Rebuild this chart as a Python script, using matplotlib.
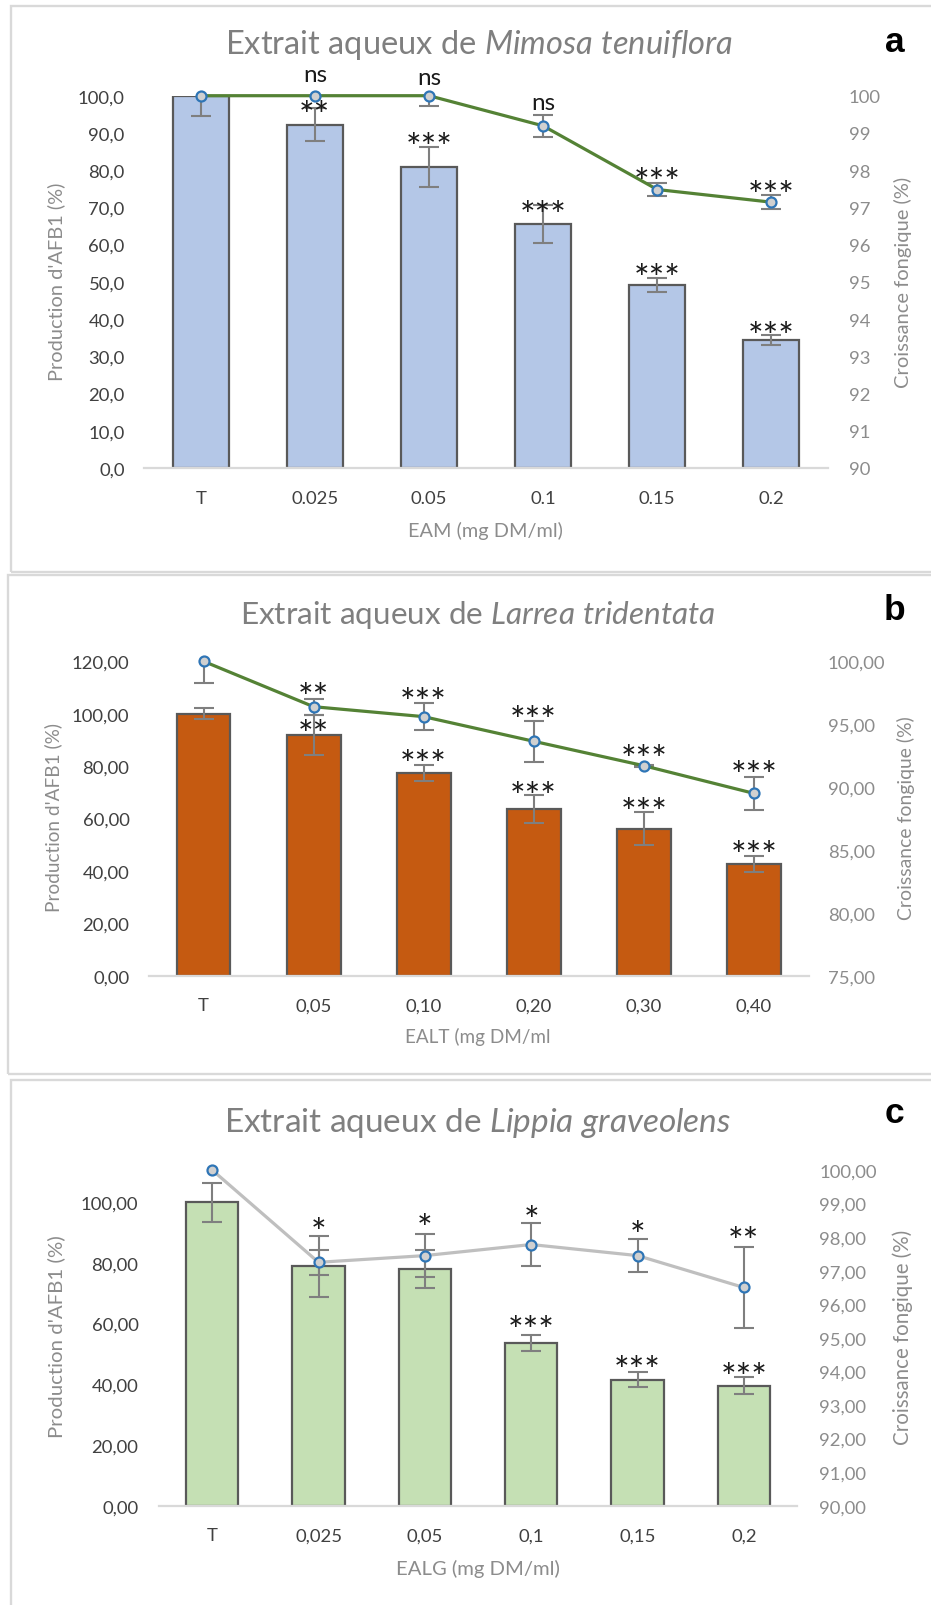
import numpy as np
import matplotlib
matplotlib.use('Agg')
import matplotlib.pyplot as plt
from matplotlib.patches import Rectangle
from matplotlib.ticker import FuncFormatter

plt.rcParams['font.family'] = ['Lato', 'DejaVu Sans']
plt.rcParams['mathtext.fontset'] = 'custom'
plt.rcParams['mathtext.rm'] = 'Lato'
plt.rcParams['mathtext.it'] = 'Lato:italic'

# ---------------- data ----------------
# Panel a : Mimosa tenuiflora
cats_a = ['T', '0.025', '0.05', '0.1', '0.15', '0.2']
afb1_a = [100.0, 92.2, 80.8, 65.5, 49.2, 34.4]
afb1_err_a = [5.5, 4.4, 5.3, 5.1, 1.8, 1.3]
growth_a = [100.0, 100.0, 100.0, 99.19, 97.48, 97.14]
growth_err_a = [0.0, 0.0, 0.27, 0.30, 0.18, 0.18]
sig_bar_a = ['', '**', '***', '***', '***', '***']
sig_line_a = ['', 'ns', 'ns', 'ns', '***', '***']

# Panel b : Larrea tridentata
cats_b = ['T', '0,05', '0,10', '0,20', '0,30', '0,40']
afb1_b = [100.0, 91.9, 77.4, 63.6, 56.1, 42.6]
afb1_err_b = [2.0, 7.5, 3.0, 5.5, 6.2, 3.0]
growth_b = [100.0, 96.39, 95.6, 93.64, 91.7, 89.5]
growth_err_b = [1.7, 0.65, 1.07, 1.65, 0.08, 1.3]
sig_bar_b = ['', '**', '***', '***', '***', '***']
sig_line_b = ['', '**', '***', '***', '***', '***']

# Panel c : Lippia graveolens
cats_c = ['T', '0,025', '0,05', '0,1', '0,15', '0,2']
afb1_c = [100.0, 78.9, 77.9, 53.6, 41.5, 39.6]
afb1_err_c = [6.4, 10.1, 6.3, 2.7, 2.4, 2.7]
growth_c = [100.0, 97.25, 97.45, 97.78, 97.45, 96.5]
growth_err_c = [0.0, 0.38, 0.64, 0.65, 0.5, 1.2]
sig_bar_c = ['', '', '', '***', '***', '***']
sig_line_c = ['', '*', '*', '*', '*', '**']

# ---------------- layout (annotation placement, left-axis units) ----------------
sig_bar_pos_a = [0, 97.2, 88.6, 70.4, 53.3, 37.8]
sig_line_pos_a = [0, 105.6, 104.9, 98.0, 79.2, 75.8]
sig_bar_pos_b = [0, 95.4, 84.0, 71.9, 65.9, 49.4]
sig_line_pos_b = [0, 109.8, 107.9, 101.1, 85.9, 79.9]
sig_bar_pos_c = [0, 0, 0, 60.8, 47.5, 45.3]
sig_line_pos_c = [0, 93.2, 94.3, 96.9, 92.0, 90.1]

W, H, DPI = 931, 1606, 100
fig = plt.figure(figsize=(W / DPI, H / DPI), dpi=DPI)
fig.patch.set_facecolor('white')


def fx(x):
    return x / W


def fy(y):
    return 1 - y / H


FRAME = '#d9d9d9'
ERR = '#7f7f7f'
TXT_DARK = '#404040'
TXT_GREY = '#8c8c8c'
TITLE = '#7f7f7f'


def frame(x0, y0, x1, y1):
    fig.add_artist(Rectangle((fx(x0), fy(y1)), fx(x1) - fx(x0), fy(y0) - fy(y1),
                             transform=fig.transFigure, fill=False,
                             edgecolor=FRAME, lw=1.7, clip_on=False))


frame(10.7, 6.7, 945, 572.7)
frame(8.3, 575.8, 945, 1075)
frame(10.7, 1080.5, 945, 1625)

fit_list = []
renderer = fig.canvas.get_renderer()


def calib(s, target):
    t = fig.text(0, 0, s, fontsize=10)
    w = t.get_window_extent(renderer=renderer).width
    t.remove()
    return 10 * target / w


STAR_FS = calib('***', 47.0)
NS_FS = calib('ns', 24.0)


def panel(box, cats, bars, bars_err, line, line_err, bar_color, line_color,
          ylim_l, yticks_l, dec_l, ylim_r, yticks_r, dec_r,
          sig_bar, sig_bar_pos, sig_line, sig_line_pos,
          pads):
    left, right, top, bottom = box
    ax = fig.add_axes([fx(left), fy(bottom), fx(right) - fx(left), fy(top) - fy(bottom)])
    x = np.arange(len(cats))
    ax.bar(x, bars, width=0.49, color=bar_color, edgecolor='#595959', linewidth=1.6, zorder=2)
    ax.errorbar(x, bars, yerr=bars_err, fmt='none', ecolor=ERR, elinewidth=1.5,
                capsize=7.5, capthick=1.5, zorder=3)
    ax.set_xlim(-0.5, len(cats) - 0.5)
    ax.set_ylim(*ylim_l)
    ax.set_yticks(yticks_l)
    ax.yaxis.set_major_formatter(FuncFormatter(lambda v, p: f'{v:.{dec_l}f}'.replace('.', ',')))
    ax.set_xticks(x)
    ax.set_xticklabels(cats)
    for s in ['top', 'left', 'right']:
        ax.spines[s].set_visible(False)
    ax.spines['bottom'].set_color('#d9d9d9')
    ax.spines['bottom'].set_linewidth(1.6)
    ax.patch.set_visible(False)
    ax.tick_params(axis='both', length=0, labelsize=13.3, labelcolor=TXT_DARK)
    ax.tick_params(axis='y', pad=pads[0])
    ax.tick_params(axis='x', pad=15.5)

    ax2 = ax.twinx()
    ax2.set_ylim(*ylim_r)
    ax2.set_yticks(yticks_r)
    ax2.yaxis.set_major_formatter(FuncFormatter(lambda v, p: f'{v:.{dec_r}f}'.replace('.', ',')))
    for s in ax2.spines.values():
        s.set_visible(False)
    ax2.tick_params(axis='y', length=0, labelsize=13.3, labelcolor=TXT_GREY, pad=pads[1])
    le = np.array(line_err)
    keep = le > 0
    ax2.errorbar(x[keep], np.array(line)[keep], yerr=le[keep], fmt='none', ecolor=ERR,
                 elinewidth=1.5, capsize=7.5, capthick=1.5, zorder=3)
    ax2.plot(x, line, color=line_color, lw=2.3, marker='o', ms=7.2, mfc='#d0d0d0',
             mec='#2e75b6', mew=1.6, clip_on=False, zorder=4)

    for labels, pos in ((sig_bar, sig_bar_pos), (sig_line, sig_line_pos)):
        for i, (lab, yv) in enumerate(zip(labels, pos)):
            if not lab:
                continue
            if '*' in lab:
                fs = STAR_FS
                off = 0.56 * fs / 0.72
            else:
                fs = NS_FS
                off = 0.25 * fs / 0.72
            ax2.annotate(lab, xy=(i, yv), xycoords=ax.transData,
                         xytext=(0, -off * 0.72), textcoords='offset points',
                         ha='center', va='baseline', fontsize=fs, color='#1a1a1a',
                         annotation_clip=False, zorder=6)
    return ax, ax2


def txt(x, y, s, target, vertical=False, **kw):
    t = fig.text(fx(x), fy(y), s, **kw)
    fit_list.append((t, target, vertical))
    return t


# ---- panel a ----
panel((143.7, 828.4, 96.7, 469.0), cats_a, afb1_a, afb1_err_a, growth_a, growth_err_a,
      '#b4c7e7', '#548235', (0, 100), np.arange(0, 101, 10), 1, (90, 100), np.arange(90, 101, 1), 0,
      sig_bar_a, sig_bar_pos_a, sig_line_a, sig_line_pos_a, (13.7, 14.8))
txt(479, 54.5, r'Extrait aqueux de $\mathit{Mimosa\ tenuiflora}$', 509, ha='center', va='baseline',
    color=TITLE, fontsize=20)
txt(485, 536.5, 'EAM (mg DM/ml)', 153, ha='center', va='baseline', color=TXT_GREY, fontsize=13)
txt(56.5, 281.5, "Production d'AFB1 (%)", 197, vertical=True, rotation=90, ha='center', va='center',
    color=TXT_GREY, fontsize=13)
txt(902.6, 282, 'Croissance fongique (%)', 210, vertical=True, rotation=90, ha='center', va='center',
    color=TXT_GREY, fontsize=13)
fig.text(fx(895), fy(51.7), 'a', family='Liberation Sans', weight='bold', fontsize=25.5,
         ha='center', va='baseline', color='black')

# ---- panel b ----
panel((148.5, 808.8, 662.3, 976.7), cats_b, afb1_b, afb1_err_b, growth_b, growth_err_b,
      '#c55a11', '#548235', (0, 120), np.arange(0, 121, 20), 2, (75, 100), np.arange(75, 101, 5), 2,
      sig_bar_b, sig_bar_pos_b, sig_line_b, sig_line_pos_b, (13.7, 13.7))
txt(478, 624.5, r'Extrait aqueux de $\mathit{Larrea\ tridentata}$', 475, ha='center', va='baseline',
    color=TITLE, fontsize=20)
txt(477.5, 1042.7, 'EALT (mg DM/ml', 143.7, ha='center', va='baseline', color=TXT_GREY, fontsize=13)
txt(53.4, 818, "Production d'AFB1 (%)", 188, vertical=True, rotation=90, ha='center', va='center',
    color=TXT_GREY, fontsize=13)
txt(905.6, 818, 'Croissance fongique (%)', 203, vertical=True, rotation=90, ha='center', va='center',
    color=TXT_GREY, fontsize=13)
fig.text(fx(894), fy(620), 'b', family='Liberation Sans', weight='bold', fontsize=25.5,
         ha='center', va='baseline', color='black')

# ---- panel c ----
panel((159.0, 797.0, 1171.0, 1506.7), cats_c, afb1_c, afb1_err_c, growth_c, growth_err_c,
      '#c5e0b4', '#bfbfbf', (0, 110.6), np.arange(0, 101, 20), 2, (90, 100), np.arange(90, 101, 1), 2,
      sig_bar_c, sig_bar_pos_c, sig_line_c, sig_line_pos_c, (14.8, 16.2))
txt(478, 1131.5, r'Extrait aqueux de $\mathit{Lippia\ graveolens}$', 507, ha='center', va='baseline',
    color=TITLE, fontsize=20)
txt(478, 1575, 'EALG (mg DM/ml)', 162.7, ha='center', va='baseline', color=TXT_GREY, fontsize=13)
txt(56.5, 1337, "Production d'AFB1 (%)", 200.6, vertical=True, rotation=90, ha='center', va='center',
    color=TXT_GREY, fontsize=13)
txt(902.6, 1337.5, 'Croissance fongique (%)', 215, vertical=True, rotation=90, ha='center', va='center',
    color=TXT_GREY, fontsize=13)
fig.text(fx(894), fy(1123.3), 'c', family='Liberation Sans', weight='bold', fontsize=25.5,
         ha='center', va='baseline', color='black')

# fit text sizes to measured widths
for t, target, vertical in fit_list:
    bb = t.get_window_extent(renderer=renderer)
    w = bb.height if vertical else bb.width
    t.set_fontsize(t.get_fontsize() * target / w)

fig.savefig('out.png', dpi=DPI, facecolor='white')
